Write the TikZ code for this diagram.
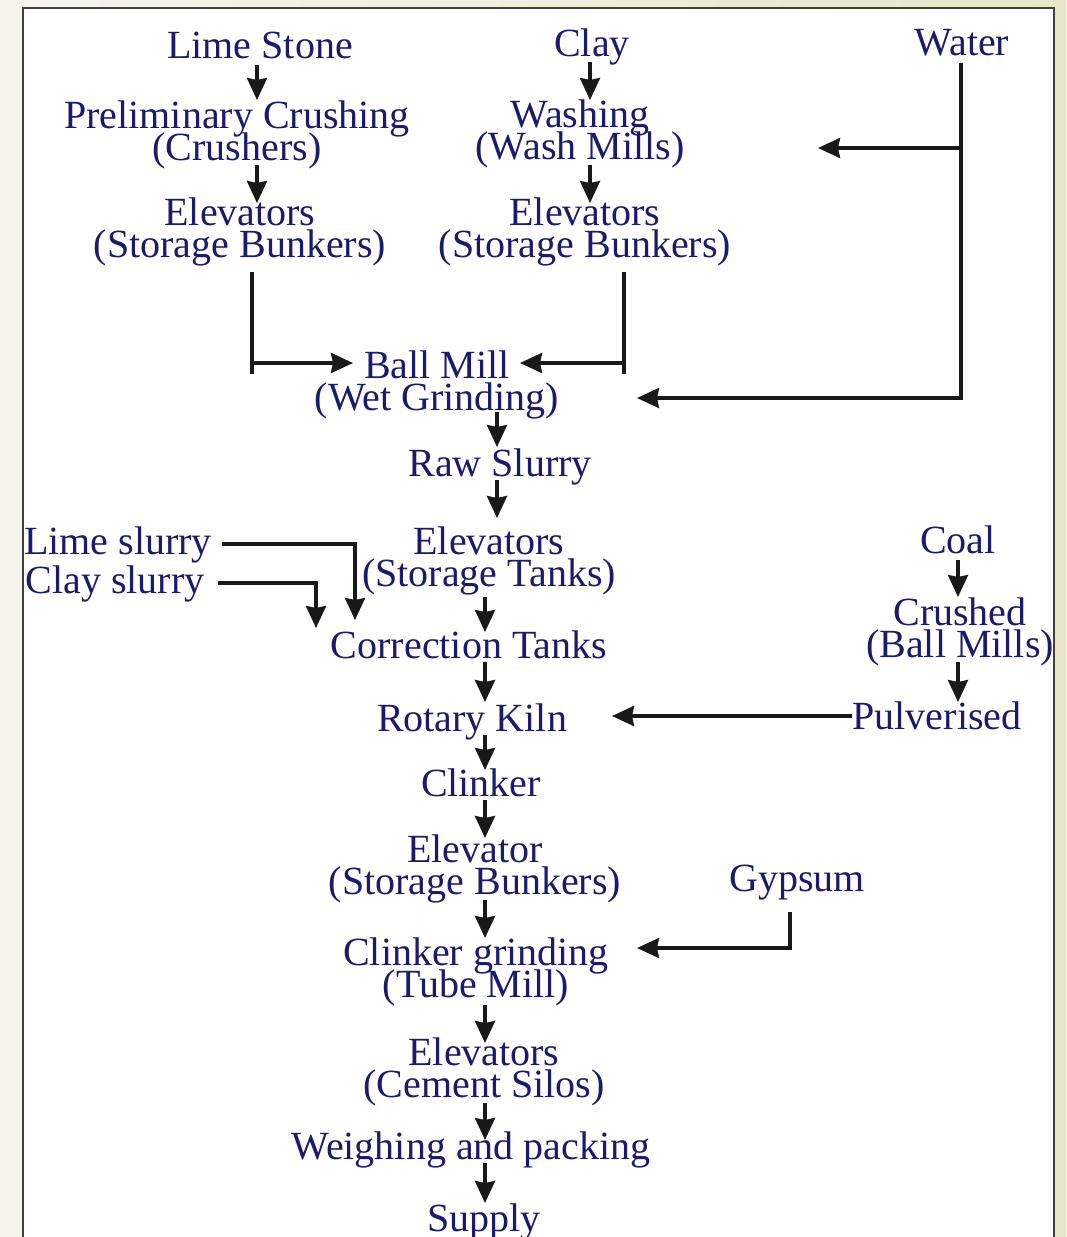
\documentclass[tikz,border=0pt]{standalone}
\usepackage{fontspec}
\setmainfont{Liberation Serif}
\usetikzlibrary{arrows.meta,calc}
\definecolor{txtc}{HTML}{1C1B6B}
\definecolor{bgl}{HTML}{F6F5EC}
\definecolor{bgr}{HTML}{E9E5C9}
\newcommand\mytightfont{\fontsize{40}{32}\selectfont\lineskiplimit=-60pt\relax\lineskip=0pt\relax}
\begin{document}
\begin{tikzpicture}[x=1pt,y=-1pt,
  txt/.style={text=txtc, font=\mytightfont, align=center, inner sep=0pt, text depth=0pt},
  ln/.style={line width=3.3pt, draw=black!90, line join=miter},
  arr/.style={ln, -{Stealth[length=22pt,width=20pt,inset=2pt]}}]
\useasboundingbox (0,0) rectangle (1066,1237);
\shade[left color=bgl, right color=bgr] (0,0) rectangle (1066,1237);
\fill[white] (22.5,8) rectangle (1054,1245);
\draw[line width=2pt, draw=black!75] (22.5,1245) -- (22.5,8) -- (1054,8) -- (1054,1245);
% columns
\coordinate (cL) at (257,0);
\coordinate (cC) at (590,0);
\coordinate (cB) at (497,0);
\coordinate (cM) at (485,0);
\coordinate (cR) at (958,0);
% nodes
\node[txt] (lime) at (260,45) {Lime Stone};
\node[txt] (prelim) at (237,131) {Preliminary Crushing\\(Crushers)};
\node[txt] (elevA) at (240,228) {Elevators\\(Storage Bunkers)};
\node[txt] (clay) at (592,43) {Clay};
\node[txt] (wash) at (580,130) {Washing\\(Wash Mills)};
\node[txt] (elevB) at (585,228) {Elevators\\(Storage Bunkers)};
\node[txt] (water) at (962,42) {Water};
\node[txt] (ball) at (437,381) {Ball Mill\\(Wet Grinding)};
\node[txt] (raw) at (500,463) {Raw Slurry};
\node[txt] (elevT) at (489,557) {Elevators\\(Storage Tanks)};
\node[txt] (limes) at (118,541) {Lime slurry};
\node[txt] (clays) at (115,580) {Clay slurry};
\node[txt] (corr) at (469,645) {Correction Tanks};
\node[txt] (kiln) at (472,718) {Rotary Kiln};
\node[txt] (coal) at (958,540) {Coal};
\node[txt] (crushed) at (960,628) {Crushed\\(Ball Mills)};
\node[txt] (pulv) at (937,716) {Pulverised};
\node[txt] (clinker) at (481,783) {Clinker};
\node[txt] (elevS) at (475,865) {Elevator\\(Storage Bunkers)};
\node[txt] (gyps) at (797,878) {Gypsum};
\node[txt] (cgrind) at (476,968) {Clinker grinding\\(Tube Mill)};
\node[txt] (elevC) at (484,1068) {Elevators\\(Cement Silos)};
\node[txt] (weigh) at (471,1146) {Weighing and packing};
\node[txt] (supply) at (484,1218) {Supply};
% vertical arrows
\draw[arr] ($(lime.center -| cL)+(0,20)$) -- ($(prelim.center -| cL)+(0,-31)$);
\draw[arr] ($(prelim.center -| cL)+(0,34)$) -- ($(elevA.center -| cL)+(0,-25)$);
\draw[arr] ($(clay.center -| cC)+(0,19)$) -- ($(wash.center -| cC)+(0,-30)$);
\draw[arr] ($(wash.center -| cC)+(0,35)$) -- ($(elevB.center -| cC)+(0,-25)$);
\draw[arr] ($(ball.center -| cB)+(0,31)$) -- ($(raw.center -| cB)+(0,-16)$);
\draw[arr] ($(raw.center -| cB)+(0,17)$) -- ($(elevT.center -| cB)+(0,-39)$);
\draw[arr] ($(elevT.center -| cM)+(0,40)$) -- ($(corr.center -| cM)+(0,-13)$);
\draw[arr] ($(corr.center -| cM)+(0,17)$) -- ($(kiln.center -| cM)+(0,-16)$);
\draw[arr] ($(kiln.center -| cM)+(0,17)$) -- ($(clinker.center -| cM)+(0,-13)$);
\draw[arr] ($(clinker.center -| cM)+(0,17)$) -- ($(elevS.center -| cM)+(0,-27)$);
\draw[arr] ($(elevS.center -| cM)+(0,35)$) -- ($(cgrind.center -| cM)+(0,-30)$);
\draw[arr] ($(cgrind.center -| cM)+(0,37)$) -- ($(elevC.center -| cM)+(0,-25)$);
\draw[arr] ($(elevC.center -| cM)+(0,35)$) -- ($(weigh.center -| cM)+(0,-6)$);
\draw[arr] ($(weigh.center -| cM)+(0,17)$) -- ($(supply.center -| cM)+(0,-15)$);
\draw[arr] ($(coal.center -| cR)+(0,20)$) -- ($(crushed.center -| cR)+(0,-31)$);
\draw[arr] ($(crushed.center -| cR)+(0,34)$) -- ($(pulv.center -| cR)+(0,-14)$);
% bunkers into ball mill
\draw[ln] ($(elevA.center)+(12,44)$) coordinate (tL) -- ++(0,102);
\coordinate (jL) at ($(tL)+(0,91)$);
\draw[arr] (jL) -- ($(ball.center)+(-84,-18)$);
\draw[ln] ($(elevB.center)+(39,44)$) coordinate (tR) -- ++(0,102);
\coordinate (jR) at ($(tR)+(0,91)$);
\draw[arr] (jR) -- ($(ball.center)+(83,-18)$);
% water
\draw[arr] ($(water.center)+(-1,21)$) |- ($(ball.center)+(200,17)$);
\draw[arr] ($(water.center)+(-1,106)$) -- ($(wash.center)+(238,18)$);
% slurries
\draw[arr] ($(limes.center)+(104,3)$) -| ($(corr.center)+(-114,-25)$);
\draw[arr] ($(clays.center)+(103,3)$) -| ($(corr.center)+(-153,-17)$);
% coal
\draw[arr] (pulv.west) -- ($(kiln.center)+(140,-2)$);
% gypsum
\draw[arr] ($(gyps.center)+(-7,34)$) |- ($(cgrind.center)+(161,-20)$);
\end{tikzpicture}
\end{document}
